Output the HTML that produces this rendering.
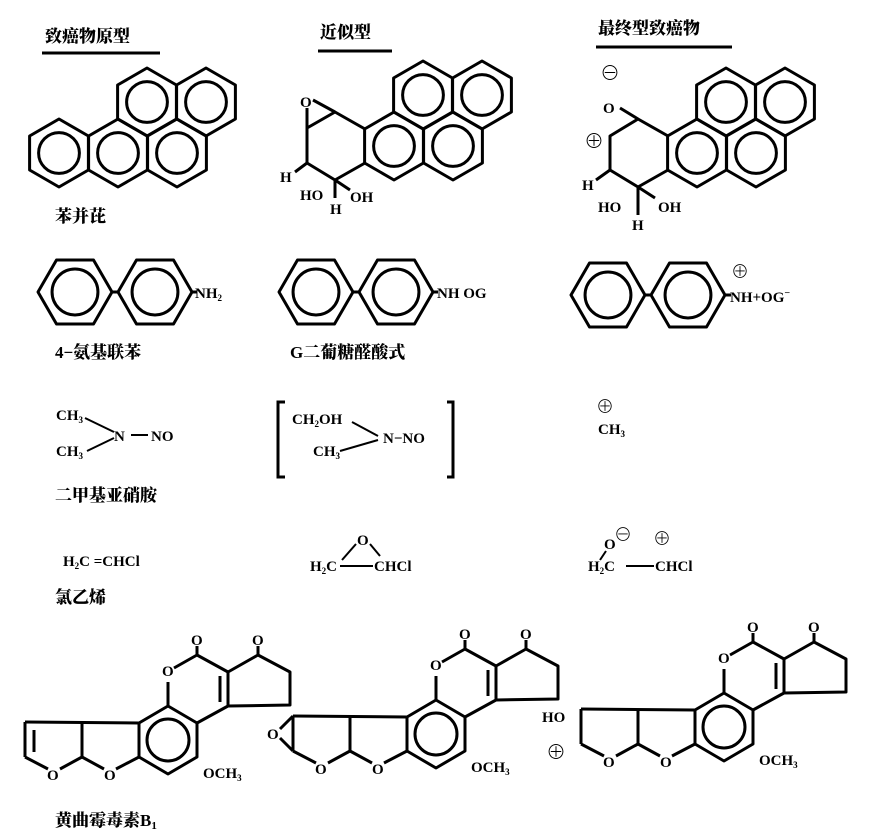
<!DOCTYPE html>
<html><head><meta charset="utf-8"><style>
body{margin:0;background:#fff}
svg{display:block}
text{font-family:"Liberation Serif","Noto Serif CJK SC",serif;font-weight:bold;fill:#000}
.cn{font-family:"Liberation Serif","Noto Serif CJK SC",serif;font-size:17px;font-weight:900}
.t{font-size:15px}
</style></head><body>
<svg id="s" width="876" height="834" viewBox="0 0 876 834" xmlns="http://www.w3.org/2000/svg">
<g id="g" fill="none" stroke="#000" stroke-width="3" stroke-linejoin="round"></g>
<text x="45" y="42" class="cn">致癌物原型</text>
<line x1="42" y1="53" x2="160" y2="53" stroke="#000" stroke-width="3"/>
<text x="320" y="38" class="cn">近似型</text>
<line x1="318" y1="51" x2="392" y2="51" stroke="#000" stroke-width="3"/>
<text x="598" y="34" class="cn">最终型致癌物</text>
<line x1="596" y1="47" x2="732" y2="47" stroke="#000" stroke-width="3"/>
<text x="55" y="222" class="cn">苯并芘</text>
<text x="300" y="107" class="t">O</text>
<text x="280" y="182" class="t">H</text>
<text x="300" y="200" class="t">HO</text>
<text x="330" y="214" class="t">H</text>
<text x="350" y="202" class="t">OH</text>
<text x="600" y="80" style="font-size:20px">⊖</text>
<text x="603" y="113" class="t">O</text>
<text x="584" y="148" style="font-size:20px">⊕</text>
<text x="582" y="190" class="t">H</text>
<text x="598" y="212" class="t">HO</text>
<text x="632" y="230" class="t">H</text>
<text x="658" y="212" class="t">OH</text>
<text x="195" y="298" class="t">NH<tspan font-size="9" dy="3">2</tspan></text>
<text x="437" y="298" class="t">NH OG</text>
<text x="730" y="302" class="t">NH+OG<tspan dy="-6" font-size="10">−</tspan></text>
<text x="731" y="278" style="font-size:18px">⊕</text>
<text x="55" y="358" class="cn">4−氨基联苯</text>
<text x="290" y="358" class="cn">G二葡糖醛酸式</text>
<text x="56" y="420" class="t">CH<tspan font-size="9" dy="3">3</tspan></text>
<text x="56" y="456" class="t">CH<tspan font-size="9" dy="3">3</tspan></text>
<line x1="85" y1="418" x2="114" y2="432" stroke="#000" stroke-width="2"/>
<line x1="87" y1="451" x2="114" y2="438" stroke="#000" stroke-width="2"/>
<text x="114" y="441" class="t">N</text>
<line x1="131" y1="435" x2="148" y2="435" stroke="#000" stroke-width="2"/>
<text x="151" y="441" class="t">NO</text>
<text x="55" y="501" class="cn">二甲基亚硝胺</text>
<path d="M285,402 L278,402 L278,477 L285,477 M447,402 L453,402 L453,477 L447,477" fill="none" stroke="#000" stroke-width="3"/>
<text x="292" y="424" class="t">CH<tspan font-size="9" dy="3">2</tspan><tspan dy="-3">OH</tspan></text>
<text x="313" y="456" class="t">CH<tspan font-size="9" dy="3">3</tspan></text>
<line x1="352" y1="422" x2="378" y2="436" stroke="#000" stroke-width="2"/>
<line x1="340" y1="451" x2="378" y2="440" stroke="#000" stroke-width="2"/>
<text x="383" y="443" class="t">N−NO</text>
<text x="596" y="413" style="font-size:18px">⊕</text>
<text x="598" y="434" class="t">CH<tspan font-size="9" dy="3">3</tspan></text>
<text x="63" y="566" class="t">H<tspan font-size="9" dy="3">2</tspan><tspan dy="-3">C =CHCl</tspan></text>
<text x="55" y="603" class="cn">氯乙烯</text>
<text x="310" y="571" class="t">H<tspan font-size="9" dy="3">2</tspan><tspan dy="-3">C</tspan></text>
<text x="357" y="545" class="t">O</text>
<line x1="342" y1="560" x2="356" y2="544" stroke="#000" stroke-width="2"/>
<line x1="370" y1="544" x2="380" y2="556" stroke="#000" stroke-width="2"/>
<line x1="340" y1="566" x2="373" y2="566" stroke="#000" stroke-width="2"/>
<text x="374" y="571" class="t">CHCl</text>
<text x="604" y="549" class="t">O</text>
<text x="614" y="541" style="font-size:18px">⊖</text>
<line x1="606" y1="551" x2="600" y2="560" stroke="#000" stroke-width="2"/>
<text x="588" y="571" class="t">H<tspan font-size="9" dy="3">2</tspan><tspan dy="-3">C</tspan></text>
<line x1="626" y1="566" x2="654" y2="566" stroke="#000" stroke-width="2"/>
<text x="655" y="571" class="t">CHCl</text>
<text x="653" y="545" style="font-size:18px">⊕</text>
<text x="55" y="826" class="cn">黄曲霉毒素<tspan font-family="Liberation Serif" font-size="17">B</tspan><tspan font-size="11" dy="3">1</tspan></text>
</svg>
<script>
var g=document.getElementById('g'),NS='http://www.w3.org/2000/svg',S=document.getElementById('s');
function el(t,a,p){var e=document.createElementNS(NS,t);for(var k in a)e.setAttribute(k,a[k]);(p||g).appendChild(e);return e;}
function hexP(cx,cy,r){var p=[];for(var i=0;i<6;i++){var a=Math.PI/180*(90+60*i);p.push((cx+r*Math.cos(a)).toFixed(1)+','+(cy-r*Math.sin(a)).toFixed(1));}return p.join(' ');}
function hexF(cx,cy,r){var p=[];for(var i=0;i<6;i++){var a=Math.PI/180*(60*i);p.push((cx+r*Math.cos(a)).toFixed(1)+','+(cy-r*Math.sin(a)).toFixed(1));}return p.join(' ');}
function ring(cx,cy,r){el('polygon',{points:hexP(cx,cy,r)});el('circle',{cx:cx,cy:cy,r:r*0.6});}
function ringF(cx,cy,r){el('polygon',{points:hexF(cx,cy,r)});el('circle',{cx:cx,cy:cy,r:r*0.62});}
function L(pts){el('polyline',{points:pts});}
function T(x,y,s,fs){var e=el('text',{x:x,y:y,'font-size':fs||15},S);e.textContent=s;return e;}
var r=34;
[[59,153],[118,153],[177,153],[147,102],[206,102]].forEach(function(c){ring(c[0],c[1],r);});
[[394,146],[453,146],[423,95],[482,95]].forEach(function(c){ring(c[0],c[1],r);});
L('365,129 335,112 307,128 307,163 335,180 365,163');
L('335,112 313,100'); L('307,128 307,108');
L('307,163 295,172'); L('335,180 335,198'); L('335,180 350,190');
[[697,153],[756,153],[726,102],[785,102]].forEach(function(c){ring(c[0],c[1],r);});
L('668,136 638,119 610,136 610,170 638,187 668,170');
L('638,119 620,108'); L('610,170 596,180'); L('638,187 638,215'); L('638,187 655,198');
var rb=37;
[[75,292],[155,292],[316,292],[396,292],[608,295],[688,295]].forEach(function(c){ringF(c[0],c[1],rb);});
L('112,292 118,292');L('192,292 197,292');
L('353,292 359,292');L('433,292 438,292');
L('645,295 651,295');L('725,295 731,295');
function afl(dx,dy,type){
 function P(s){return s.split(' ').map(function(q){var v=q.split(',');return (+v[0]+dx)+','+(+v[1]+dy);}).join(' ');}
 el('polygon',{points:P('168,706 197,723 197,757 168,774 139,757 139,723')});
 el('circle',{cx:168+dx,cy:740+dy,r:21});
 L(P('168,706 168,682')); L(P('174,668 197,655 228,672 228,706 197,723'));
 L(P('197,655 197,646')); L(P('228,672 258,655 290,672 290,705 228,706')); L(P('258,655 258,646'));
 L(P('220,676 220,702'));
 L(P('139,723 25,722')); L(P('82,722 82,757'));
 L(P('82,757 104,769')); L(P('116,769 139,757'));
 L(P('82,757 60,769')); L(P('48,769 25,757'));
 if(type==0){L(P('25,722 25,757'));L(P('34,730 34,752'));}
 if(type==1){L(P('25,722 25,757'));L(P('25,722 12,735'));L(P('25,757 12,744'));T(dx+-1,dy+745,'O');}
 if(type==2){L(P('25,722 25,757'));T(dx-14,dy+735,'HO');T(dx-10,dy+772,'⊕',20);}
 T(dx+162,dy+676,'O');T(dx+191,dy+645,'O');T(dx+252,dy+645,'O');
 T(dx+47,dy+780,'O');T(dx+104,dy+780,'O');
 var o=T(dx+203,dy+778,'OCH');var s=el('tspan',{'font-size':9,dy:3},o);s.textContent='3';
}
afl(0,0,0);afl(268,-6,1);afl(556,-13,2);
</script>
</body></html>
